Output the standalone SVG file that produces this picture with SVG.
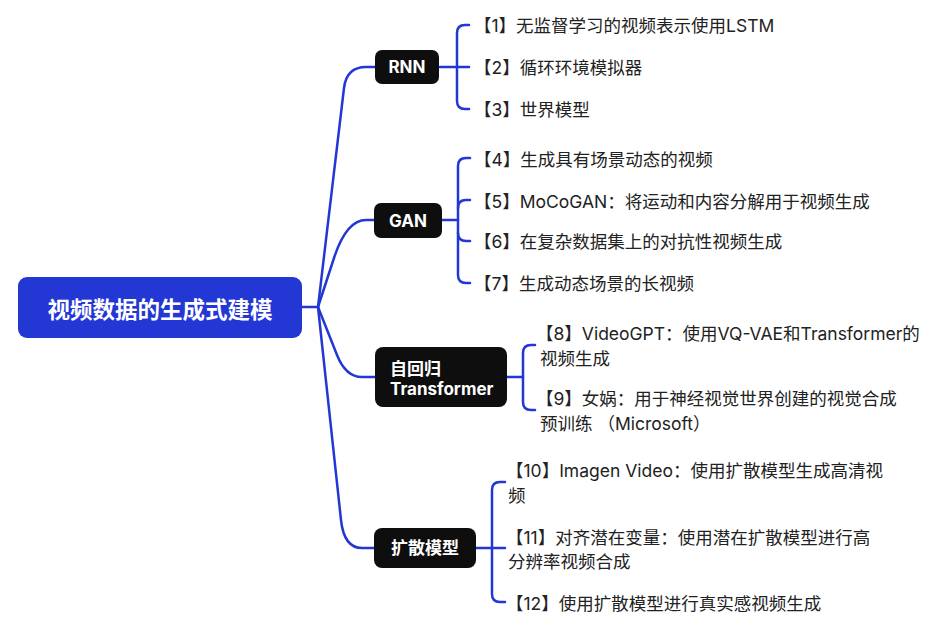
<svg xmlns="http://www.w3.org/2000/svg" width="940" height="631" viewBox="0 0 940 631">
<style>
.ln{fill:none;stroke:#2337D5;stroke-width:2.5;stroke-linecap:round;stroke-linejoin:round}
.nd{fill:#0E0E0E}
.nt{font-family:Inter,"Noto Sans CJK SC",sans-serif;font-weight:700;fill:#fff;font-size:17px}
.lf{font-family:Inter,"Noto Sans CJK SC",sans-serif;font-size:17.5px;fill:#222}
</style>
<rect width="940" height="631" fill="#fff"/>
<g id="connectors">
<path class="ln" d="M302,307 H318"/>
<path class="ln" d="M318,307 L344,88 Q346.5,67 366,67 H375"/>
<path class="ln" d="M318,307 L334,258 Q346.4,220 366,220 H374"/>
<path class="ln" d="M318,307 L337,355 Q345.7,377 362,377 H375"/>
<path class="ln" d="M318,307 L341,520 Q344,548 362,548 H374"/>
<path class="ln" d="M440,67 H469"/>
<path class="ln" d="M469,25 H465 Q457,25 457,33 V101 Q457,109 465,109 H469"/>
<path class="ln" d="M442,220 H458"/>
<path class="ln" d="M470,158 H466 Q458,158 458,166 V275 Q458,283 466,283 H470"/>
<path class="ln" d="M458,208 Q458,200 466,200 H470"/>
<path class="ln" d="M458,233 Q458,241 466,241 H470"/>
<path class="ln" d="M507,377 H523"/>
<path class="ln" d="M535,345 H531 Q523,345 523,353 V402 Q523,410 531,410 H535"/>
<path class="ln" d="M476,548 H505"/>
<path class="ln" d="M505,482 H500 Q492,482 492,490 V594 Q492,602 500,602 H505"/>
</g>
<g id="root">
<rect x="18" y="277" width="284" height="61" rx="9" fill="#2337D5"/>
<text x="160" y="308" text-anchor="middle" dominant-baseline="central" font-family="'Noto Sans CJK SC',sans-serif" font-weight="700" font-size="22.5" fill="#fff">视频数据的生成式建模</text>
</g>
<g id="rnn">
<rect class="nd" x="375" y="50" width="64" height="34" rx="7"/>
<text class="nt" x="407" y="67" text-anchor="middle" dominant-baseline="central">RNN</text>
</g>
<g id="gan">
<rect class="nd" x="374" y="203" width="68" height="35" rx="7"/>
<text class="nt" x="408" y="220.5" text-anchor="middle" dominant-baseline="central">GAN</text>
</g>
<g id="ar">
<rect class="nd" x="375" y="347" width="132" height="60" rx="8"/>
<text class="nt" x="390" y="369" dominant-baseline="central">自回归</text>
<text class="nt" x="390" y="389" dominant-baseline="central" font-size="16">Transformer</text>
</g>
<g id="diff">
<rect class="nd" x="374" y="528" width="102" height="40" rx="8"/>
<text class="nt" x="425" y="548" text-anchor="middle" dominant-baseline="central" font-size="17.5">扩散模型</text>
</g>
<g id="leaf1"><text class="lf" x="474" y="25" dominant-baseline="central">【1】无监督学习的视频表示使用LSTM</text></g>
<g id="leaf2"><text class="lf" x="474" y="67" dominant-baseline="central">【2】循环环境模拟器</text></g>
<g id="leaf3"><text class="lf" x="474" y="109" dominant-baseline="central">【3】世界模型</text></g>
<g id="leaf4"><text class="lf" x="474" y="159" dominant-baseline="central">【4】生成具有场景动态的视频</text></g>
<g id="leaf5"><text class="lf" x="474" y="201" dominant-baseline="central">【5】MoCoGAN：将运动和内容分解用于视频生成</text></g>
<g id="leaf6"><text class="lf" x="474" y="241" dominant-baseline="central">【6】在复杂数据集上的对抗性视频生成</text></g>
<g id="leaf7"><text class="lf" x="474" y="283" dominant-baseline="central">【7】生成动态场景的长视频</text></g>
<g id="leaf8"><text class="lf" x="536" y="333" dominant-baseline="central">【8】VideoGPT：使用VQ-VAE和Transformer的</text><text class="lf" x="540" y="358" dominant-baseline="central">视频生成</text></g>
<g id="leaf9"><text class="lf" x="536" y="398" dominant-baseline="central">【9】女娲：用于神经视觉世界创建的视觉合成</text><text class="lf" x="540" y="423" dominant-baseline="central">预训练 （Microsoft）</text></g>
<g id="leaf10"><text class="lf" x="506" y="470" dominant-baseline="central">【10】Imagen Video：使用扩散模型生成高清视</text><text class="lf" x="508" y="495" dominant-baseline="central">频</text></g>
<g id="leaf11"><text class="lf" x="506" y="537" dominant-baseline="central">【11】对齐潜在变量：使用潜在扩散模型进行高</text><text class="lf" x="508" y="561" dominant-baseline="central">分辨率视频合成</text></g>
<g id="leaf12"><text class="lf" x="506" y="603" dominant-baseline="central">【12】使用扩散模型进行真实感视频生成</text></g>
</svg>
